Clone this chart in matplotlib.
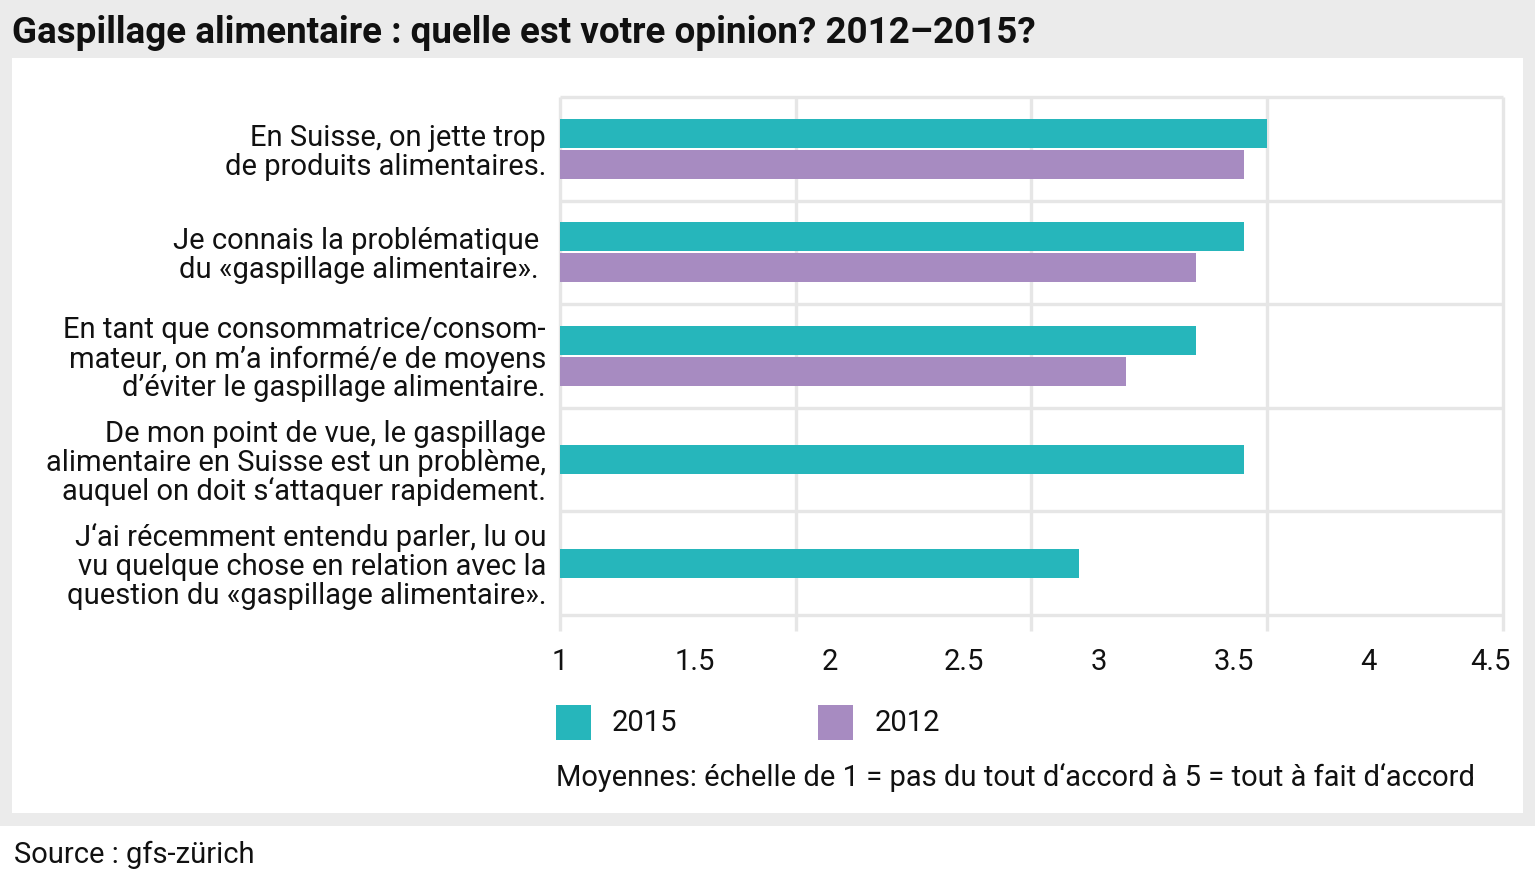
import matplotlib
matplotlib.use("Agg")
import matplotlib.pyplot as plt
import matplotlib.patches as mpatches
import matplotlib.transforms as mtransforms
from matplotlib import font_manager
import numpy as np

# ── Data ───────────────────────────────────────────────────────
categories = [
    "En Suisse, on jette trop\nde produits alimentaires.",
    "Je connais la problématique \ndu «gaspillage alimentaire». ",
    "En tant que consommatrice/consom-\nmateur, on m’a informé/e de moyens\nd’éviter le gaspillage alimentaire.",
    "De mon point de vue, le gaspillage\nalimentaire en Suisse est un problème,\nauquel on doit s‘attaquer rapidement.",
    "J‘ai récemment entendu parler, lu ou\nvu quelque chose en relation avec la\nquestion du «gaspillage alimentaire».",
]
values_2015 = [4.0, 3.9, 3.7, 3.9, 3.2]
values_2012 = [3.9, 3.7, 3.4, None, None]
tick_labels = ["1", "1.5", "2", "2.5", "3", "3.5", "4", "4.5"]

TEAL = "#26b6bb"
PURPLE = "#a78bc1"
GRID = "#e6e6e6"
BG = "#ebebeb"

names = {f.name for f in font_manager.fontManager.ttflist}
FONT = "DejaVu Sans"
for cand in ["Roboto", "Noto Sans", "Open Sans"]:
    if cand in names:
        FONT = cand
        break
plt.rcParams["font.family"] = [FONT, "DejaVu Sans"]
FS = 21

fig = plt.figure(figsize=(15.35, 8.74), dpi=100)
fig.patch.set_facecolor("white")

# background panels
fig.patches.append(mpatches.Rectangle((0, 0.0549), 1, 0.9451, transform=fig.transFigure,
                                      facecolor=BG, edgecolor="none", zorder=-2))
fig.patches.append(mpatches.Rectangle((0.0078, 0.0698), 0.9844, 0.8638, transform=fig.transFigure,
                                      facecolor="white", edgecolor="none", zorder=-1))

ax = fig.add_axes([0.3648, 0.2963, 0.6143, 0.5927])
ax.set_facecolor("none")

n = len(categories)
centers = np.arange(n) + 0.5
h = 0.28
for i, c in enumerate(centers):
    v15, v12 = values_2015[i], values_2012[i]
    if v12 is None:
        ax.barh(c, v15 - 1, left=1, height=h, color=TEAL, zorder=3)
    else:
        ax.barh(c - 0.15, v15 - 1, left=1, height=h, color=TEAL, zorder=3)
        ax.barh(c + 0.15, v12 - 1, left=1, height=h, color=PURPLE, zorder=3)

ax.set_xlim(1, 5)
ax.set_ylim(n, 0)

# grid: vertical at integer scale points, horizontal between categories
for x in range(1, 6):
    ax.plot([x, x], [0, n + 0.15], color=GRID, lw=2.4, clip_on=False, zorder=1,
            solid_capstyle="butt")
for y in range(0, n + 1):
    ax.plot([1, 5], [y, y], color=GRID, lw=2.4, clip_on=False, zorder=1,
            solid_capstyle="butt")

for s in ax.spines.values():
    s.set_visible(False)

ax.set_yticks(centers)
ax.set_yticklabels(categories, fontsize=FS, linespacing=1.04, color="#111111")
ax.tick_params(axis="y", length=0, pad=10)

ax.set_xticks(np.linspace(1, 5, len(tick_labels)))
ax.set_xticklabels(tick_labels, fontsize=FS, color="#111111")
ax.tick_params(axis="x", length=0, pad=24)
last = ax.get_xticklabels()[-1]
last.set_ha("right")
last.set_transform(last.get_transform() +
                   mtransforms.ScaledTranslation(8 / 100, 0, fig.dpi_scale_trans))

# title, legend, note, source
fig.text(0.008, 0.962, "Gaspillage alimentaire : quelle est votre opinion? 2012–2015?",
         fontsize=26.5, fontweight="bold", va="center", ha="left", color="#111111")

leg_y = 1 - 723 / 874
fig.patches.append(mpatches.Rectangle((556 / 1535, 1 - 740 / 874), 35 / 1535, 35 / 874,
                                      transform=fig.transFigure, facecolor=TEAL, edgecolor="none"))
fig.text(612 / 1535, leg_y, "2015", fontsize=FS, va="center", ha="left", color="#111111")
fig.patches.append(mpatches.Rectangle((818 / 1535, 1 - 740 / 874), 35 / 1535, 35 / 874,
                                      transform=fig.transFigure, facecolor=PURPLE, edgecolor="none"))
fig.text(875 / 1535, leg_y, "2012", fontsize=FS, va="center", ha="left", color="#111111")

fig.text(556 / 1535, 1 - 778 / 874,
         "Moyennes: échelle de 1 = pas du tout d‘accord à 5 = tout à fait d‘accord",
         fontsize=FS, va="center", ha="left", color="#111111")

fig.text(14 / 1535, 1 - 855 / 874, "Source : gfs-zürich",
         fontsize=FS, va="center", ha="left", color="#111111")

fig.savefig("out.png", dpi=100)
